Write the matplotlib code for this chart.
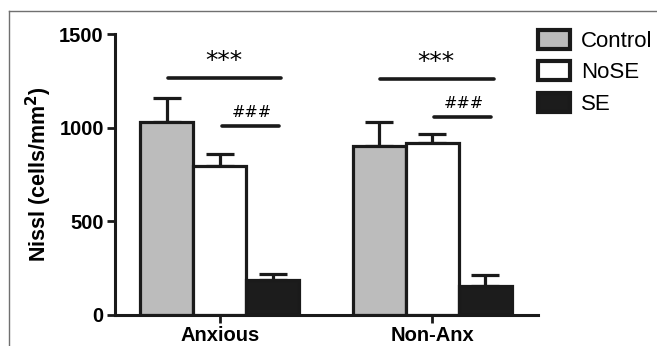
import matplotlib.pyplot as plt
import numpy as np
from matplotlib.lines import Line2D

plt.rcParams['font.family'] = ['Liberation Sans', 'DejaVu Sans']

groups = ['Anxious', 'Non-Anx']
series = ['Control', 'NoSE', 'SE']
means = {
    'Control': [1030, 902],
    'NoSE': [795, 918],
    'SE': [187, 155],
}
errors = {
    'Control': [130, 130],
    'NoSE': [65, 50],
    'SE': [32, 60],
}
colors = {'Control': '#bcbcbc', 'NoSE': '#ffffff', 'SE': '#1c1c1c'}

# heights of the significance bars
sig_star_y = [1265, 1260]
sig_hash_y = [1009, 1057]

fig = plt.figure(figsize=(6.57, 3.46), dpi=100)
ax = fig.add_axes([0.175, 0.0896, 0.644, 0.812])

x = np.arange(len(groups))
width = 0.25
offsets = [-width, 0, width]

for s, off in zip(series, offsets):
    ax.bar(x + off, means[s], width, color=colors[s], edgecolor='#1a1a1a',
           linewidth=2.3, label=s, zorder=2)
    ax.errorbar(x + off, means[s], yerr=[np.zeros(len(groups)), errors[s]],
                fmt='none', ecolor='#1a1a1a', elinewidth=2.3, capsize=10,
                capthick=2.3, zorder=1)

# significance lines
for i in range(len(groups)):
    ax.plot([x[i] - 0.245, x[i] + 0.29], [sig_star_y[i]] * 2, color='#1a1a1a',
            lw=2.6, solid_capstyle='round')
    ax.text(x[i] + 0.02, sig_star_y[i] + 25, '***', ha='center', va='bottom',
            fontsize=18, family='DejaVu Sans')
    ax.plot([x[i] + 0.01, x[i] + 0.28], [sig_hash_y[i]] * 2, color='#1a1a1a',
            lw=2.6, solid_capstyle='round')
    ax.text(x[i] + 0.15, sig_hash_y[i] + 30, '###', ha='center', va='bottom',
            fontsize=11.5, family='DejaVu Sans')

ax.set_xlim(-0.495, 1.5)
ax.set_ylim(0, 1500)
ax.set_yticks([0, 500, 1000, 1500])
ax.set_xticks(x)
ax.set_xticklabels(groups)
ax.set_ylabel('Nissl (cells/mm$^\\mathbf{2}$)', fontsize=15.5, fontweight='bold',
              labelpad=4)
for lab in ax.get_xticklabels() + ax.get_yticklabels():
    lab.set_fontweight('bold')
    lab.set_fontsize(14.5)
ax.tick_params(width=2, length=6, color='#1a1a1a', pad=2)
for side in ['top', 'right']:
    ax.spines[side].set_visible(False)
for side in ['left', 'bottom']:
    ax.spines[side].set_linewidth(2.2)
    ax.spines[side].set_color('#1a1a1a')

leg = ax.legend(loc='upper left', bbox_to_anchor=(0.805, 0.94),
                bbox_transform=fig.transFigure, frameon=False, fontsize=16,
                handlelength=1.45, handleheight=0.95, handletextpad=0.5,
                labelspacing=0.42, borderaxespad=0)
for p in leg.get_patches():
    p.set_linewidth(3)

# image frame lines
fig.add_artist(Line2D([9 / 657, 1], [1 - 11 / 346] * 2, color='#707070', lw=1))
fig.add_artist(Line2D([9 / 657] * 2, [0, 1 - 11 / 346], color='#707070', lw=1))

fig.savefig('out.png', dpi=100)
